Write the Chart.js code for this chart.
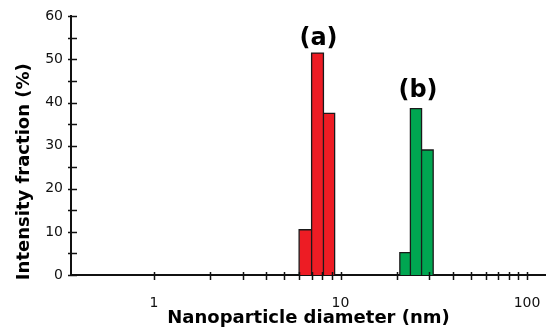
<!DOCTYPE html>
<html>
<head>
<meta charset="utf-8">
<script src="https://cdn.jsdelivr.net/npm/chart.js@4/dist/chart.umd.min.js"></script>
<style>
  html, body { margin: 0; padding: 0; background: #fff; }
  #wrap { width: 546px; height: 335px; position: relative; }
</style>
</head>
<body>
<div id="wrap"><canvas id="c"></canvas></div>
<script>
// ---- data ----
const seriesLabels = ['(a)', '(b)'];
const redBinEdges = [6.0, 7.0, 8.1, 9.3];        // nm
const redValues = [10.5, 51.5, 37.5];             // %
const greenBinEdges = [20.8, 23.7, 27.2, 31.4];  // nm
const greenValues = [5.2, 38.6, 29.0];            // %
const xTickValues = [1, 2, 3, 4, 5, 6, 7, 8, 9, 10, 20, 30, 40, 50, 60, 70, 80, 90, 100];
const xLabelValues = [1, 10, 100];
const yTickValues = [0, 5, 10, 15, 20, 25, 30, 35, 40, 45, 50, 55, 60];
const yLabelValues = [0, 10, 20, 30, 40, 50, 60];

// histogram outline: every bin is a closed rectangle down to zero
function histPoints(edges, values) {
  const pts = [{x: edges[0], y: 0}];
  for (let i = 0; i < values.length; i++) {
    pts.push({x: edges[i], y: values[i]});
    pts.push({x: edges[i + 1], y: values[i]});
    pts.push({x: edges[i + 1], y: 0});
  }
  return pts;
}

const AXIS = '#111';

const tickPlugin = {
  id: 'crossTicks',
  afterDraw(chart) {
    const ctx = chart.ctx;
    const xs = chart.scales.x, ys = chart.scales.y;
    const axisY = ys.getPixelForValue(0);
    const axisX = chart.chartArea.left;
    ctx.save();
    ctx.strokeStyle = AXIS;
    ctx.lineWidth = 1.5;
    ctx.beginPath();
    xTickValues.forEach(v => {
      const px = Math.round(xs.getPixelForValue(v)) + 0.5;
      ctx.moveTo(px, axisY - 3);
      ctx.lineTo(px, axisY + 5);
    });
    yTickValues.forEach(v => {
      const py = Math.round(ys.getPixelForValue(v)) + 0.5;
      ctx.moveTo(axisX - 3, py);
      ctx.lineTo(axisX + 6, py);
    });
    ctx.stroke();
    ctx.restore();
  }
};

const peakLabelPlugin = {
  id: 'peakLabels',
  afterDatasetsDraw(chart) {
    const ctx = chart.ctx;
    const xs = chart.scales.x, ys = chart.scales.y;
    ctx.save();
    ctx.fillStyle = '#000';
    ctx.font = 'bold 24px "DejaVu Sans"';
    ctx.textAlign = 'center';
    ctx.textBaseline = 'alphabetic';
    chart.data.datasets.forEach(ds => {
      const edges = ds.binEdges, vals = ds.binValues;
      let k = 0;
      vals.forEach((v, i) => { if (v > vals[k]) k = i; });
      const cx = (xs.getPixelForValue(edges[k]) + xs.getPixelForValue(edges[k + 1])) / 2 + ds.labelDx;
      const cy = ys.getPixelForValue(vals[k]) - ds.labelGap;
      ctx.fillText(ds.label, cx, cy);
    });
    ctx.restore();
  }
};

const yTitlePlugin = {
  id: 'yTitle',
  afterDraw(chart) {
    const ctx = chart.ctx;
    const ys = chart.scales.y;
    ctx.save();
    ctx.fillStyle = '#000';
    ctx.font = 'bold 18px "DejaVu Sans"';
    ctx.textAlign = 'center';
    ctx.textBaseline = 'alphabetic';
    ctx.translate(28.5, (ys.getPixelForValue(0) + ys.getPixelForValue(60)) / 2 + 26);
    ctx.rotate(-Math.PI / 2);
    ctx.fillText('Intensity fraction (%)', 0, 0);
    ctx.restore();
  }
};

new Chart(document.getElementById('c'), {
  type: 'scatter',
  data: {
    datasets: [
      {
        label: seriesLabels[0],
        data: histPoints(redBinEdges, redValues),
        binEdges: redBinEdges, binValues: redValues, labelGap: 8, labelDx: 1,
        showLine: true, tension: 0, fill: 'origin',
        backgroundColor: '#ED1C24', borderColor: '#1a1a1a', borderWidth: 1.3,
        pointRadius: 0, pointHoverRadius: 0
      },
      {
        label: seriesLabels[1],
        data: histPoints(greenBinEdges, greenValues),
        binEdges: greenBinEdges, binValues: greenValues, labelGap: 12, labelDx: 2,
        showLine: true, tension: 0, fill: 'origin',
        backgroundColor: '#00A651', borderColor: '#1a1a1a', borderWidth: 1.3,
        pointRadius: 0, pointHoverRadius: 0
      }
    ]
  },
  options: {
    responsive: true,
    maintainAspectRatio: false,
    animation: false,
    layout: { padding: { top: 16, right: 0, bottom: 0, left: 0 } },
    plugins: { legend: { display: false }, tooltip: { enabled: false } },
    scales: {
      x: {
        type: 'logarithmic',
        position: 'bottom',
        min: 0.359,
        max: 126.4,
        z: 1,
        grid: { display: false, drawTicks: false },
        border: { display: true, color: AXIS, width: 2 },
        afterBuildTicks(scale) { scale.ticks = xTickValues.map(v => ({value: v})); },
        afterFit(scale) {
          scale.height = 60;
          scale.paddingLeft = 0;
          scale.paddingRight = 0;
        },
        ticks: {
          autoSkip: false, maxRotation: 0, minRotation: 0, padding: 20,
          color: '#111', font: { family: 'DejaVu Sans', size: 14 },
          callback: (v) => xLabelValues.includes(v) ? String(v) : ''
        },
        title: {
          display: true, text: 'Nanoparticle diameter (nm)', color: '#000',
          font: { family: 'DejaVu Sans', size: 18, weight: 'bold' },
          padding: { top: 0, bottom: 6 }
        }
      },
      y: {
        type: 'linear',
        min: 0, max: 60,
        grid: { display: false, drawTicks: false },
        border: { display: true, color: AXIS, width: 2 },
        afterBuildTicks(scale) { scale.ticks = yTickValues.map(v => ({value: v})); },
        afterFit(scale) { scale.width = 71; },
        ticks: {
          autoSkip: false, padding: 8,
          color: '#111', font: { family: 'DejaVu Sans', size: 14 },
          callback: (v) => yLabelValues.includes(v) ? String(v) : ''
        },
        title: { display: false }
      }
    }
  },
  plugins: [tickPlugin, peakLabelPlugin, yTitlePlugin]
});
</script>
</body>
</html>
